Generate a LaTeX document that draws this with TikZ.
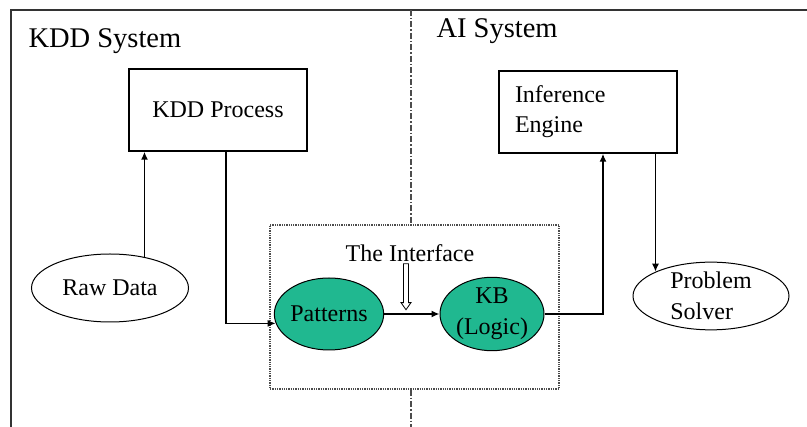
\documentclass[tikz,border=0pt]{standalone}
\usepackage{fontspec}
\setmainfont{Liberation Serif}
\newfontfamily\tmsfont{Liberation Serif}
\usetikzlibrary{positioning,arrows.meta,calc,shapes.geometric,shapes.arrows}
\definecolor{kbgreen}{RGB}{32,184,144}
\tikzset{
  frm/.style={line width=2pt,black!80},
  pbox/.style={draw,rectangle,line width=1.4pt,minimum width=178pt,minimum height=82pt,
    inner sep=0pt,font=\tmsfont\fontsize{24}{30}\selectfont},
  oval/.style={draw,ellipse,line width=1pt,inner sep=0pt,font=\tmsfont\fontsize{24}{31}\selectfont},
  goval/.style={oval,fill=kbgreen},                 % green oval inside the interface
  arr/.style={-{Latex[length=8pt,width=7pt]},line width=1.5pt},
  divln/.style={line width=1.1pt,black!70,dash pattern=on 6pt off 2pt on 1.5pt off 2pt}, % system divider
  ifrm/.style={draw,black!70,line width=1.3pt,densely dotted,inner sep=0pt},
  ttl/.style={font=\tmsfont\fontsize{28.5}{32}\selectfont,anchor=base west},
  lbl/.style={font=\tmsfont\fontsize{24}{30}\selectfont},
  openarr/.style={draw,single arrow,shape border rotate=270,minimum height=46pt,
    minimum width=10pt,single arrow head extend=2.5pt,single arrow tip angle=70,
    inner sep=2pt,line width=0.8pt},
}
\begin{document}
\begin{tikzpicture}[x=1pt,y=-1pt]
  \useasboundingbox (0,0) rectangle (807,427);
  % outer frame
  \draw[frm] (807,10) -- (11,10) -- (11,427);
  \node[ttl] (kddsys) at (25,48) {KDD System};
  \node[ttl] (aisys) at (433,38) {AI System};

  % the interface
  \node[ifrm,minimum width=289pt,minimum height=164pt] (iface) at (414.5,307) {};
  \coordinate (divtop) at (411,10);
  \coordinate (divbot) at (411,427);
  \draw[divln] (divtop) -- (divtop |- iface.north);
  \draw[divln] (divbot |- iface.south) -- (divbot);
  \node[lbl] (iftitle) at (410,253) {The Interface};
  \node[openarr] (ifarrow) at (406,285) {};

  \node[pbox] (kddproc) at (218,110) {KDD Process};
  \node[pbox,align=left,text width=146pt] (infeng) at (588,112) {Inference\\Engine};
  \node[oval,minimum width=157pt,minimum height=68pt] (rawdata) at (110,288) {Raw Data};
  \node[oval,align=left,minimum width=156pt,minimum height=66pt] (solver) at (711,296) {Problem\\Solver};
  \node[goval,minimum width=105pt,minimum height=72pt] (patterns) at (329,314) {Patterns};
  \node[goval,align=center,minimum width=104pt,minimum height=72pt] (kb) at (492,314) {KB\\(Logic)};

  \draw[arr] (rawdata.42) -- (rawdata.42 |- kddproc.south);
  \draw[arr] ($(kddproc.south)+(8,0)$) |- (patterns.190);
  \draw[arr] (patterns) -- (kb);
  \draw[arr] (kb.east) -| ($(infeng.south)+(15,0)$);
  \draw[arr] (infeng.south -| solver.north west) -- (solver.north west);
\end{tikzpicture}
\end{document}
